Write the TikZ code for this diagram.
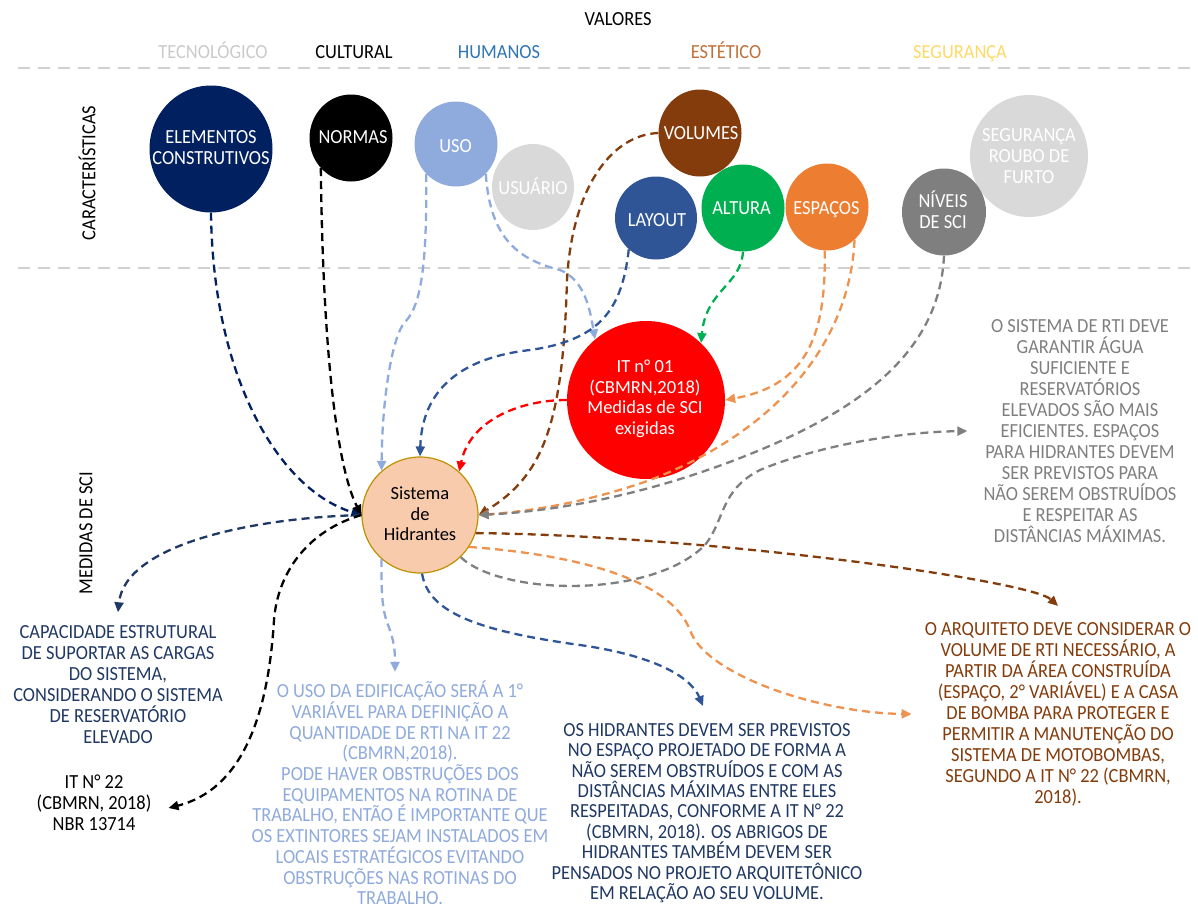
\documentclass[tikz,border=0pt]{standalone}
\usepackage{fontspec}
\setmainfont{Carlito}
\newfontfamily\capfont[FakeStretch=0.92]{Carlito}
\usetikzlibrary{shapes.geometric,arrows.meta}
\definecolor{navyA}{HTML}{002060}
\definecolor{navyT}{HTML}{203864}
\definecolor{lblue}{HTML}{8FAADC}
\definecolor{lay}{HTML}{2F5597}
\definecolor{brn}{HTML}{843C0C}
\definecolor{grn}{HTML}{00B050}
\definecolor{org}{HTML}{ED7D31}
\definecolor{orgl}{HTML}{EE924F}
\definecolor{gry}{HTML}{7F7F7F}
\definecolor{lgry}{HTML}{D9D9D9}
\definecolor{sepgry}{HTML}{D0D0D0}
\definecolor{tecgry}{HTML}{CACACA}
\definecolor{hum}{HTML}{2E75B6}
\definecolor{est}{HTML}{C0703A}
\definecolor{seg}{HTML}{FFD966}
\definecolor{peach}{HTML}{F8CBAD}
\definecolor{gold}{HTML}{BF9000}
\definecolor{redc}{HTML}{FF0000}
\tikzset{
  txt/.style={font=\capfont\fontsize{20}{21}\selectfont, align=center, inner sep=0pt},
  ctxt/.style={font=\fontsize{18.5}{20.5}\selectfont, align=center, inner sep=0pt},
  bubble/.style={ellipse, inner sep=0pt, draw=none},
  conn/.style={line width=2.3pt, dash pattern=on 8pt off 5pt, -{Triangle[length=10pt,width=9pt]}},
  sepline/.style={draw=sepgry, line width=2pt, dash pattern=on 12pt off 8pt}
}
\begin{document}
\begin{tikzpicture}[x=1pt,y=-1pt]
\useasboundingbox (0,0) rectangle (1198,908);

% header
\node[txt, anchor=base] (valores) at (618,25.3) {VALORES};
\node[txt, anchor=base, text=tecgry] (tec) at (213,58) {TECNOLÓGICO};
\node[txt, anchor=base, text=black] (cul) at (354,58) {CULTURAL};
\node[txt, anchor=base, text=hum] (humT) at (499,58) {HUMANOS};
\node[txt, anchor=base, text=est] (estT) at (726,58) {ESTÉTICO};
\node[txt, anchor=base, text=seg] (segT) at (960,58) {SEGURANÇA};

\draw[sepline] (18,68) -- (1198,68);
\draw[sepline] (18,268) -- (1198,268);

\node[txt, rotate=90] (carac) at (87,173) {CARACTERÍSTICAS};
\node[txt, rotate=90] (medidas) at (86,533) {MEDIDAS DE SCI};

% bubbles
\node[bubble, fill=navyA, minimum width=123pt, minimum height=127pt] (elem) at (211,149) {};
\node[txt, text=white] (elemT) at (211,148) {ELEMENTOS\\CONSTRUTIVOS};
\node[bubble, fill=black, minimum width=83pt, minimum height=87pt] (normas) at (351,138) {};
\node[txt, text=white] (normasT) at (353,137.5) {NORMAS};
\node[bubble, fill=lblue, minimum width=83pt, minimum height=85pt] (uso) at (456,144) {};
\node[txt, text=white] (usoC) at (455.5,146) {USO};
\node[bubble, fill=lgry, minimum width=82pt, minimum height=86pt] (usu) at (533,187) {};
\node[txt, text=white] (usuT) at (533,186) {USUÁRIO};
\node[bubble, fill=brn, minimum width=83pt, minimum height=87pt] (vol) at (700,133) {};
\node[txt, text=white] (volT) at (701,133.5) {VOLUMES};
\node[bubble, fill=lay, minimum width=82pt, minimum height=83pt] (layout) at (656,218) {};
\node[txt, text=white] (layT) at (657,220) {LAYOUT};
\node[bubble, fill=grn, minimum width=83pt, minimum height=87pt] (alt) at (743,208) {};
\node[txt, text=white] (altT) at (741.5,208.5) {ALTURA};
\node[bubble, fill=org, minimum width=83pt, minimum height=87pt] (esp) at (827,207) {};
\node[txt, text=white] (espT) at (826.5,210) {ESPAÇOS};
\node[bubble, fill=lgry, minimum width=118pt, minimum height=122pt] (segc) at (1029,156) {};
\node[txt, text=white] (segcT) at (1029,156) {SEGURANÇA\\ROUBO DE\\FURTO};
\node[bubble, fill=gry, minimum width=84pt, minimum height=87pt] (niv) at (944,212) {};
\node[txt, text=white] (nivT) at (943,210) {NÍVEIS\\DE SCI};

\node[circle, fill=redc, minimum size=158pt, inner sep=0pt] (red) at (646,400) {};
\node[ctxt, text=white] (redT) at (645,399) {IT n° 01\\(CBMRN,2018)\\Medidas de SCI\\exigidas};

\node[circle, fill=peach, draw=gold, line width=1.2pt, minimum size=116pt, inner sep=0pt] (hid) at (420,515) {};
\node[ctxt, text=black] (hidT) at (420,514) {Sistema\\de\\Hidrantes};

% text blocks
\node[txt, text=navyT] (cap) at (118,684.5) {CAPACIDADE ESTRUTURAL\\DE SUPORTAR AS CARGAS\\DO SISTEMA,\\CONSIDERANDO O SISTEMA\\DE RESERVATÓRIO\\ELEVADO};
\node[txt, text=black] (it22) at (94,803) {IT N° 22\\(CBMRN, 2018)\\NBR 13714};
\node[txt, text=lblue, font=\capfont\fontsize{20}{20.7}\selectfont] (usoT) at (400,793) {O USO DA EDIFICAÇÃO SERÁ A 1°\\VARIÁVEL PARA DEFINIÇÃO A\\QUANTIDADE DE RTI NA IT 22\\(CBMRN,2018).\\PODE HAVER OBSTRUÇÕES DOS\\EQUIPAMENTOS NA ROTINA DE\\TRABALHO, ENTÃO É IMPORTANTE QUE\\OS EXTINTORES SEJAM INSTALADOS EM\\LOCAIS ESTRATÉGICOS EVITANDO\\OBSTRUÇÕES NAS ROTINAS DO\\TRABALHO.};
\node[txt, text=navyT, font=\capfont\fontsize{20}{20.4}\selectfont] (navyTx) at (707,813) {OS HIDRANTES DEVEM SER PREVISTOS\\NO ESPAÇO PROJETADO DE FORMA A\\NÃO SEREM OBSTRUÍDOS E COM AS\\DISTÂNCIAS MÁXIMAS ENTRE ELES\\RESPEITADAS, CONFORME A IT N° 22\\(CBMRN, 2018). OS ABRIGOS DE\\HIDRANTES TAMBÉM DEVEM SER\\PENSADOS NO PROJETO ARQUITETÔNICO\\EM RELAÇÃO AO SEU VOLUME.};
\node[txt, text=brn] (brnT) at (1058,714) {O ARQUITETO DEVE CONSIDERAR O\\VOLUME DE RTI NECESSÁRIO, A\\PARTIR DA ÁREA CONSTRUÍDA\\(ESPAÇO, 2° VARIÁVEL) E A CASA\\DE BOMBA PARA PROTEGER E\\PERMITIR A MANUTENÇÃO DO\\SISTEMA DE MOTOBOMBAS,\\SEGUNDO A IT N° 22 (CBMRN,\\2018).};
\node[txt, text=gry] (grayT) at (1080,431) {O SISTEMA DE RTI DEVE\\GARANTIR ÁGUA\\SUFICIENTE E\\RESERVATÓRIOS\\ELEVADOS SÃO MAIS\\EFICIENTES. ESPAÇOS\\PARA HIDRANTES DEVEM\\SER PREVISTOS PARA\\NÃO SEREM OBSTRUÍDOS\\E RESPEITAR AS\\DISTÂNCIAS MÁXIMAS.};

% incoming connectors
\draw[conn, navyA] (elem.south) .. controls (213,380) and (280,490) .. (hid.west);
\draw[conn, black] (normas.-135) .. controls (323,360) and (338,470) .. (hid.west);
\draw[conn, lblue] (uso.-135) .. controls (427,260) and (422,305) .. (405,322) .. controls (392,336) and (382,400) .. (hid.131);
\draw[conn, lblue] (uso.-45) .. controls (490,240) and (520,260) .. (560,270) .. controls (585,280) and (590,310) .. (red.130);
\draw[conn, brn] (vol.west) .. controls (610,135) and (572,190) .. (567,280) .. controls (563,420) and (545,475) .. (hid.east);
\draw[conn, lay] (layout.-131) .. controls (622,310) and (600,340) .. (530,350) .. controls (460,358) and (422,390) .. (hid.north);
\draw[conn, grn] (alt.south) .. controls (741,285) and (706,290) .. (red.46);
\draw[conn, orgl] (esp.-93) .. controls (826,330) and (810,385) .. (red.east);
\draw[conn, orgl] (esp.-50) .. controls (850,340) and (780,430) .. (650,480) .. controls (580,505) and (520,512) .. (hid.east);
\draw[conn, gry] (niv.south) .. controls (940,340) and (880,400) .. (760,450) .. controls (640,500) and (540,512) .. (hid.east);
\draw[conn, redc] (red.west) .. controls (520,400) and (470,420) .. (hid.48);

% outgoing connectors
\draw[conn, navyT] (hid.west) .. controls (250,518) and (125,545) .. ([yshift=13pt]cap.north);
\draw[conn, black] (hid.west) .. controls (310,530) and (278,570) .. (274,620) .. controls (268,720) and (240,790) .. ([xshift=17pt,yshift=-5pt]it22.east);
\draw[conn, lblue] (hid.-131) .. controls (381,590) and (382,610) .. (388,625) .. controls (394,640) and (395,650) .. ([xshift=-5pt,yshift=9pt]usoT.north);
\draw[conn, lay] (hid.-88) .. controls (428,610) and (470,630) .. (580,645) .. controls (650,655) and (690,675) .. ([xshift=-4pt,yshift=17pt]navyTx.north);
\draw[conn, gry] (hid.-46) .. controls (500,595) and (650,600) .. (705,545) .. controls (725,520) and (720,490) .. (760,470) .. controls (820,445) and (900,432) .. ([xshift=-16pt]grayT.west);
\draw[conn, brn] (hid.-18) .. controls (700,535) and (1030,580) .. ([yshift=16pt]brnT.north);
\draw[conn, orgl] (hid.-33) .. controls (580,555) and (670,580) .. (690,630) .. controls (705,675) and (820,713) .. ([xshift=-13pt]brnT.west);
\end{tikzpicture}
\end{document}
